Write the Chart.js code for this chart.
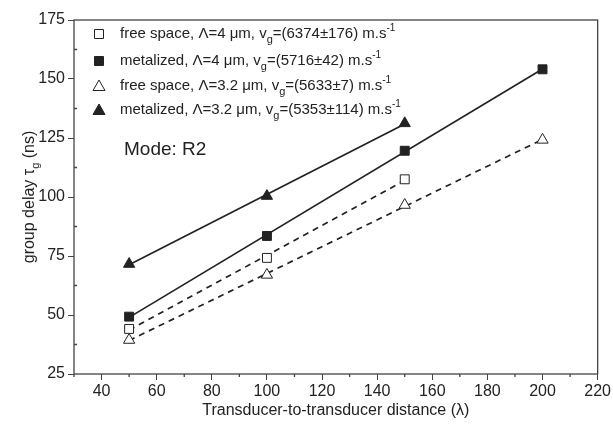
<!DOCTYPE html>
<html>
<head>
<meta charset="utf-8">
<script src="https://cdn.jsdelivr.net/npm/chart.js@4/dist/chart.umd.min.js"></script>
<style>
  html, body { margin: 0; padding: 0; background: #fff; }
  #wrap { width: 613px; height: 430px; }
</style>
</head>
<body>
<div id="wrap"><canvas id="delayChart" width="613" height="430"></canvas></div>
<script>
// measured group delays (ns) vs transducer spacing (in wavelengths)
const distances = [50, 100, 150, 200];
const freeSpace4 = [44.1, 74.2, 107.5];
const metalized4 = [49.3, 83.5, 119.6, 154.1];
const freeSpace32 = [39.4, 67.0, 96.6, 124.2];
const metalized32 = [71.6, 100.4, 131.2];

// linear fit lines, start/end values
const fitFree4 = { x: [50, 150], y: [43.6, 107.0] };
const fitMetal4 = { x: [50, 200], y: [49.0, 154.2] };
const fitFree32 = { x: [50, 200], y: [39.2, 124.4] };
const fitMetal32 = { x: [50, 150], y: [71.3, 130.9] };

const xTicks = [40, 60, 80, 100, 120, 140, 160, 180, 200, 220];
const yTicks = [25, 50, 75, 100, 125, 150, 175];

const legendRows = [
  { marker: "openSquare", text: "free space, \u039B=4 \u03BCm, v", sub: "g", rest: "=(6374\u00B1176) m.s", sup: "-1" },
  { marker: "square", text: "metalized, \u039B=4 \u03BCm, v", sub: "g", rest: "=(5716\u00B142) m.s", sup: "-1" },
  { marker: "openTriangle", text: "free space, \u039B=3.2 \u03BCm, v", sub: "g", rest: "=(5633\u00B17) m.s", sup: "-1" },
  { marker: "triangle", text: "metalized, \u039B=3.2 \u03BCm, v", sub: "g", rest: "=(5353\u00B1114) m.s", sup: "-1" }
];

const FONT = "'Liberation Sans', Arial, sans-serif";
const INK = "#222";

function pts(xs, ys) {
  return ys.map((y, i) => ({ x: xs[i], y }));
}

function pointSet(label, ys, style) {
  return {
    label,
    data: pts(distances, ys),
    showLine: false,
    pointStyle: style.shape,
    pointRadius: style.radius,
    pointBackgroundColor: style.filled ? INK : "#fff",
    pointBorderColor: INK,
    pointBorderWidth: 1,
    order: 0
  };
}

function fitSet(fit, dashed) {
  return {
    type: "line",
    data: pts(fit.x, fit.y),
    borderColor: "#222",
    borderWidth: 1.7,
    borderDash: dashed ? [6, 5] : [],
    pointRadius: 0,
    fill: false,
    order: 1
  };
}

function drawMarker(ctx, kind, x, y) {
  ctx.save();
  ctx.lineWidth = 1;
  ctx.strokeStyle = INK;
  ctx.fillStyle = kind === "square" || kind === "triangle" ? INK : "#fff";
  ctx.beginPath();
  if (kind.toLowerCase().includes("square")) {
    ctx.rect(x - 4.5, y - 4.5, 9, 9);
  } else {
    ctx.moveTo(x, y - 6);
    ctx.lineTo(x + 6, y + 4.5);
    ctx.lineTo(x - 6, y + 4.5);
    ctx.closePath();
  }
  ctx.fill();
  ctx.stroke();
  ctx.restore();
}

const decorations = {
  id: "decorations",
  afterDraw(chart) {
    const { ctx, chartArea: a, scales } = chart;
    ctx.save();

    // frame
    ctx.strokeStyle = "#444";
    ctx.lineWidth = 1.3;
    ctx.strokeRect(a.left, a.top, a.right - a.left, a.bottom - a.top);

    // minor ticks
    ctx.beginPath();
    for (let v = 30; v <= 210; v += 20) {
      const px = scales.x.getPixelForValue(v);
      ctx.moveTo(px, a.bottom);
      ctx.lineTo(px, a.bottom + 3);
    }
    for (let v = 37.5; v < 175; v += 25) {
      const py = scales.y.getPixelForValue(v);
      ctx.moveTo(a.left, py);
      ctx.lineTo(a.left + 3, py);
    }
    ctx.stroke();

    // legend
    ctx.fillStyle = INK;
    ctx.textBaseline = "middle";
    const rowY = [34, 61, 86, 110];
    legendRows.forEach((row, i) => {
      const y = rowY[i];
      drawMarker(ctx, row.marker, 99, y);
      let x = 120;
      ctx.font = "15px " + FONT;
      ctx.fillText(row.text, x, y);
      x += ctx.measureText(row.text).width;
      ctx.font = "11px " + FONT;
      ctx.fillText(row.sub, x, y + 6);
      x += ctx.measureText(row.sub).width;
      ctx.font = "15px " + FONT;
      ctx.fillText(row.rest, x, y);
      x += ctx.measureText(row.rest).width;
      ctx.font = "10px " + FONT;
      ctx.fillText(row.sup, x, y - 6);
    });

    // mode label
    ctx.font = "19px " + FONT;
    ctx.fillText("Mode: R2", 124, 150);

    // y axis title
    ctx.translate(30, (a.top + a.bottom) / 2);
    ctx.rotate(-Math.PI / 2);
    const main = "group delay \u03C4";
    const tail = " (ns)";
    ctx.font = "16px " + FONT;
    const w1 = ctx.measureText(main).width;
    ctx.font = "11px " + FONT;
    const w2 = ctx.measureText("g").width;
    ctx.font = "16px " + FONT;
    const w3 = ctx.measureText(tail).width;
    let tx = -(w1 + w2 + w3) / 2;
    ctx.textBaseline = "middle";
    ctx.fillText(main, tx, 0);
    tx += w1;
    ctx.font = "11px " + FONT;
    ctx.fillText("g", tx, 6);
    tx += w2;
    ctx.font = "16px " + FONT;
    ctx.fillText(tail, tx, 0);

    ctx.restore();
  }
};

const ctx = document.getElementById("delayChart").getContext("2d");

new Chart(ctx, {
  type: "scatter",
  data: {
    datasets: [
      fitSet(fitFree4, true),
      fitSet(fitMetal4, false),
      fitSet(fitFree32, true),
      fitSet(fitMetal32, false),
      pointSet("free space 4", freeSpace4, { shape: "rect", radius: 6.3, filled: false }),
      pointSet("metalized 4", metalized4, { shape: "rect", radius: 6.3, filled: true }),
      pointSet("free space 3.2", freeSpace32, { shape: "triangle", radius: 6.5, filled: false }),
      pointSet("metalized 3.2", metalized32, { shape: "triangle", radius: 6.5, filled: true })
    ]
  },
  options: {
    responsive: false,
    animation: false,
    layout: { padding: { top: 20, right: 13, left: 0, bottom: 0 } },
    plugins: {
      legend: { display: false },
      tooltip: { enabled: false }
    },
    scales: {
      x: {
        type: "linear",
        min: 30,
        max: 220,
        afterBuildTicks: s => { s.ticks = xTicks.map(v => ({ value: v })); },
        afterFit: s => { s.height = 56; },
        grid: { drawOnChartArea: false, tickLength: 6, color: "#444", tickColor: "#444" },
        border: { display: false },
        ticks: { color: INK, font: { family: FONT, size: 16 }, padding: 2, maxRotation: 0 },
        title: {
          display: true,
          text: "Transducer-to-transducer distance (\u03BB)",
          color: INK,
          font: { family: FONT, size: 16 },
          padding: { top: 0, bottom: 10 }
        }
      },
      y: {
        type: "linear",
        min: 25,
        max: 175,
        afterBuildTicks: s => { s.ticks = yTicks.map(v => ({ value: v })); },
        afterFit: s => { s.width = 74; },
        grid: { drawOnChartArea: false, tickLength: 6, color: "#444", tickColor: "#444" },
        border: { display: false },
        ticks: { color: INK, font: { family: FONT, size: 16 }, padding: 3 }
      }
    }
  },
  plugins: [decorations]
});
</script>
</body>
</html>
